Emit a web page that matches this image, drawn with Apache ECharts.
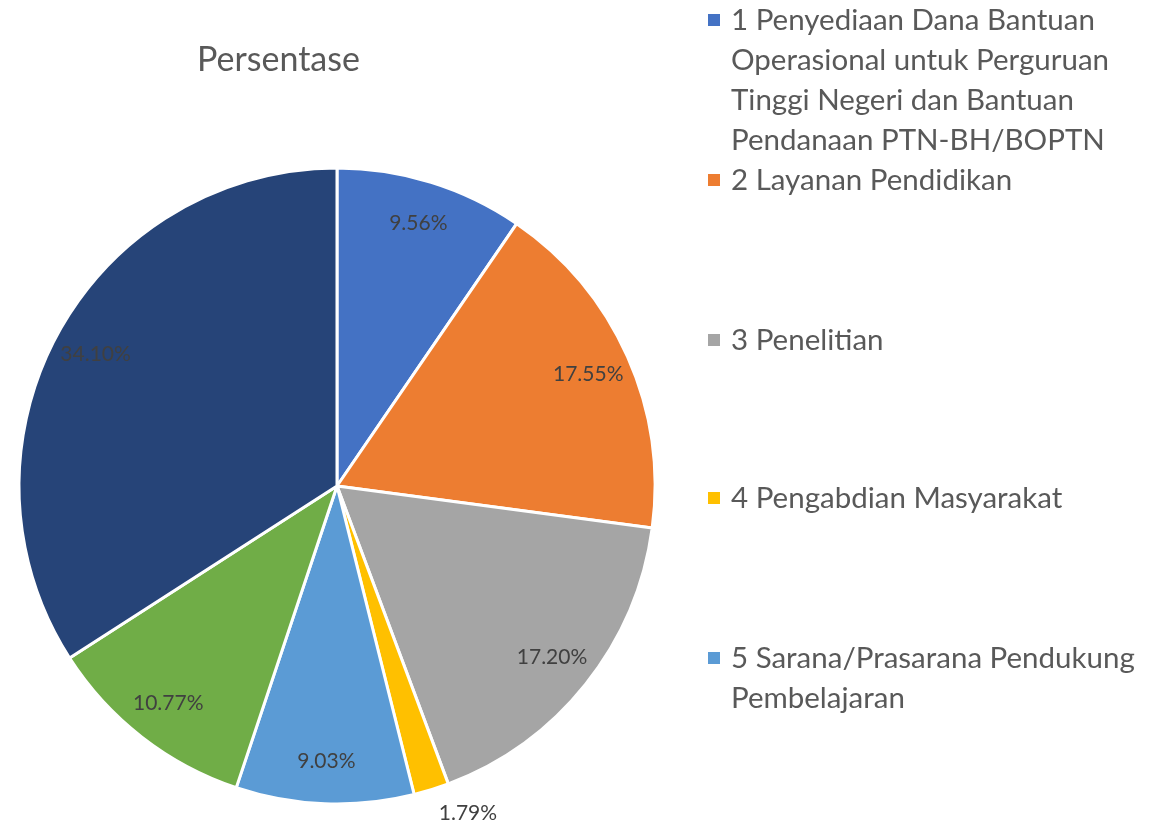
<!DOCTYPE html>
<html>
<head>
<meta charset="utf-8">
<script src="https://cdn.jsdelivr.net/npm/echarts@6/dist/echarts.min.js"></script>
<style>
html,body{margin:0;padding:0;background:#fff;}
#chart{width:1167px;height:822px;}
</style>
</head>
<body>
<div id="chart"></div>
<script>
// ---- Data ----
const titleText = 'Persentase';
const categories = [
  '1 Penyediaan Dana Bantuan Operasional untuk Perguruan Tinggi Negeri dan Bantuan Pendanaan PTN-BH/BOPTN',
  '2 Layanan Pendidikan',
  '3 Penelitian',
  '4 Pengabdian Masyarakat',
  '5 Sarana/Prasarana Pendukung Pembelajaran',
  '6',
  '7'
];
const legendLines = [
  ['1 Penyediaan Dana Bantuan', 'Operasional untuk Perguruan', 'Tinggi Negeri dan Bantuan', 'Pendanaan PTN-BH/BOPTN'],
  ['2 Layanan Pendidikan'],
  ['3 Penelitian'],
  ['4 Pengabdian Masyarakat'],
  ['5 Sarana/Prasarana Pendukung', 'Pembelajaran']
];
const values = [9.56, 17.55, 17.20, 1.79, 9.03, 10.77, 34.10];
const colors = ['#4472C4', '#ED7D31', '#A5A5A5', '#FFC000', '#5B9BD5', '#70AD47', '#264478'];

// ---- Chart ----
const FONT = 'Lato, "Open Sans", sans-serif';
const LH = 40;
const iconTops = [13, 173, 333, 491, 651];

const legends = legendLines.map((lines, i) => {
  const n = lines.length;
  const offset = (2 * n - 1) * LH / 2 - 7;
  const blanks = new Array(n - 1).fill(' ');
  return {
    orient: 'vertical',
    left: 706,
    top: iconTops[i] - offset,
    padding: 0,
    itemWidth: 14,
    itemHeight: 14,
    icon: 'rect',
    selectedMode: false,
    data: [categories[i]],
    formatter: () => blanks.concat(lines).join('\n'),
    textStyle: { fontFamily: FONT, fontSize: 29.5, color: '#595959', lineHeight: LH, padding: [0, 0, 0, 5] }
  };
});

const pieData = categories.map((c, i) => ({ name: c, value: values[i], itemStyle: { color: colors[i] } }));
const labelData = categories.map((c, i) => {
  const d = { name: c, value: values[i] };
  if (values[i] < 3) {
    d.label = { position: 'outside', distanceToLabelLine: 0 };
    d.labelLine = { show: false, length: 25, length2: 0 };
  }
  return d;
});

const chart = echarts.init(document.getElementById('chart'));
chart.setOption({
  animation: false,
  backgroundColor: '#ffffff',
  title: {
    text: titleText,
    left: 192,
    top: 38,
    textStyle: { fontFamily: FONT, fontSize: 34, fontWeight: 'normal', color: '#595959' }
  },
  legend: legends,
  series: [
    {
      type: 'pie',
      center: [337, 486],
      radius: [0, 318],
      startAngle: 90,
      clockwise: true,
      silent: true,
      label: { show: false },
      labelLine: { show: false },
      itemStyle: { borderColor: '#ffffff', borderWidth: 3 },
      data: pieData
    },
    {
      type: 'pie',
      center: [337, 486],
      radius: [226, 318],
      startAngle: 90,
      clockwise: true,
      silent: true,
      itemStyle: { color: 'rgba(0,0,0,0)', borderWidth: 0 },
      label: {
        show: true,
        position: 'inside',
        formatter: p => p.value.toFixed(2) + '%',
        fontFamily: FONT,
        fontSize: 21,
        color: '#404040'
      },
      labelLine: { show: false },
      data: labelData
    }
  ]
});
</script>
</body>
</html>
